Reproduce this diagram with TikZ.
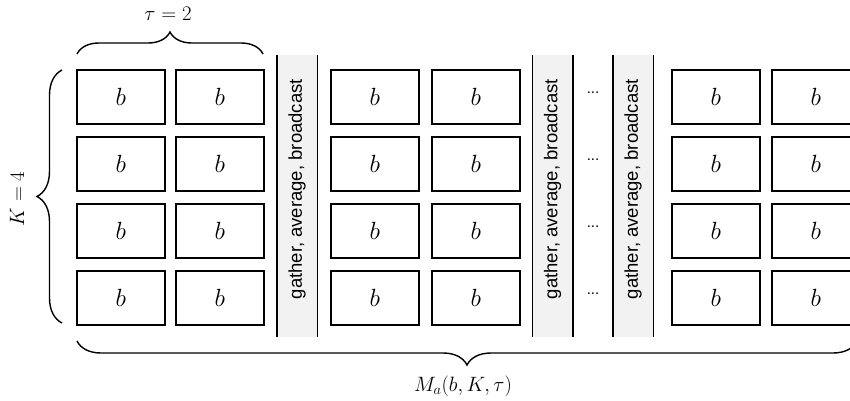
\documentclass[tikz,border=0pt]{standalone}
\usepackage{fontspec}
\newfontfamily\gfont{Liberation Sans}
\usetikzlibrary{decorations.pathreplacing}
\definecolor{gfill}{HTML}{F2F2F2}
\begin{document}
\begin{tikzpicture}[x=1pt,y=-1pt,
  cell/.style={draw=black,line width=1.8pt,minimum width=88pt,minimum height=54pt,inner sep=0pt,anchor=north west,font=\fontsize{26}{26}\selectfont},
  gcol/.style={fill=gfill,draw=none,minimum width=40pt,minimum height=282pt,inner sep=0pt,anchor=north west},
  gline/.style={line width=1.6pt},
  gtext/.style={rotate=90,font=\gfont\fontsize{18.5}{18.5}\selectfont,inner sep=0pt},
  dotsn/.style={font=\gfont\fontsize{15}{15}\selectfont,anchor=base,inner sep=0pt},
  brc/.style={decorate,line width=1.4pt},
  lbl/.style={font=\fontsize{21}{21}\selectfont}]
\useasboundingbox (0,0) rectangle (850,400);
% gather columns
\foreach \n/\gx in {g1/277,g2/532.5,g3/613}{
  \node[gcol] (\n) at (\gx,55) {};
  \draw[gline] (\n.north west) -- (\n.south west);
  \draw[gline] (\n.north east) -- (\n.south east);
  \node[gtext] (\n t) at ([yshift=7pt]\n.center) {gather, average, broadcast};
}
% cells
\foreach \c/\cx in {1/76,2/175,3/330,4/431,5/671,6/771}{
  \foreach \r/\ry in {1/69,2/136,3/203,4/270}{
    \node[cell] (c\c\r) at (\cx,\ry) {$b$};
  }
}
% dots
\foreach \r in {1,2,3,4}{
  \node[dotsn] (d\r) at (593,{69+67*(\r-1)+27-3}) {...};
}
% braces
\coordinate (tl) at (77,54);
\coordinate (tr) at (263,54);
\draw[brc,decoration={brace,amplitude=22pt}] (tl) -- (tr);
\node[lbl] (tau) at (168,14) {$\tau=2$};
\coordinate (lb) at (62,323);
\coordinate (lt) at (62,70);
\draw[brc,decoration={brace,amplitude=25pt}] (lb) -- (lt);
\node[lbl,rotate=90] (K) at (17,199) {$K=4$};
\coordinate (br) at (857,341);
\coordinate (bl) at (77,341);
\draw[brc,decoration={brace,amplitude=24pt}] (br) -- (bl);
\node[font=\fontsize{21}{21}\selectfont] (M) at (463,386) {$M_a(b,K,\tau)$};
\end{tikzpicture}
\end{document}
